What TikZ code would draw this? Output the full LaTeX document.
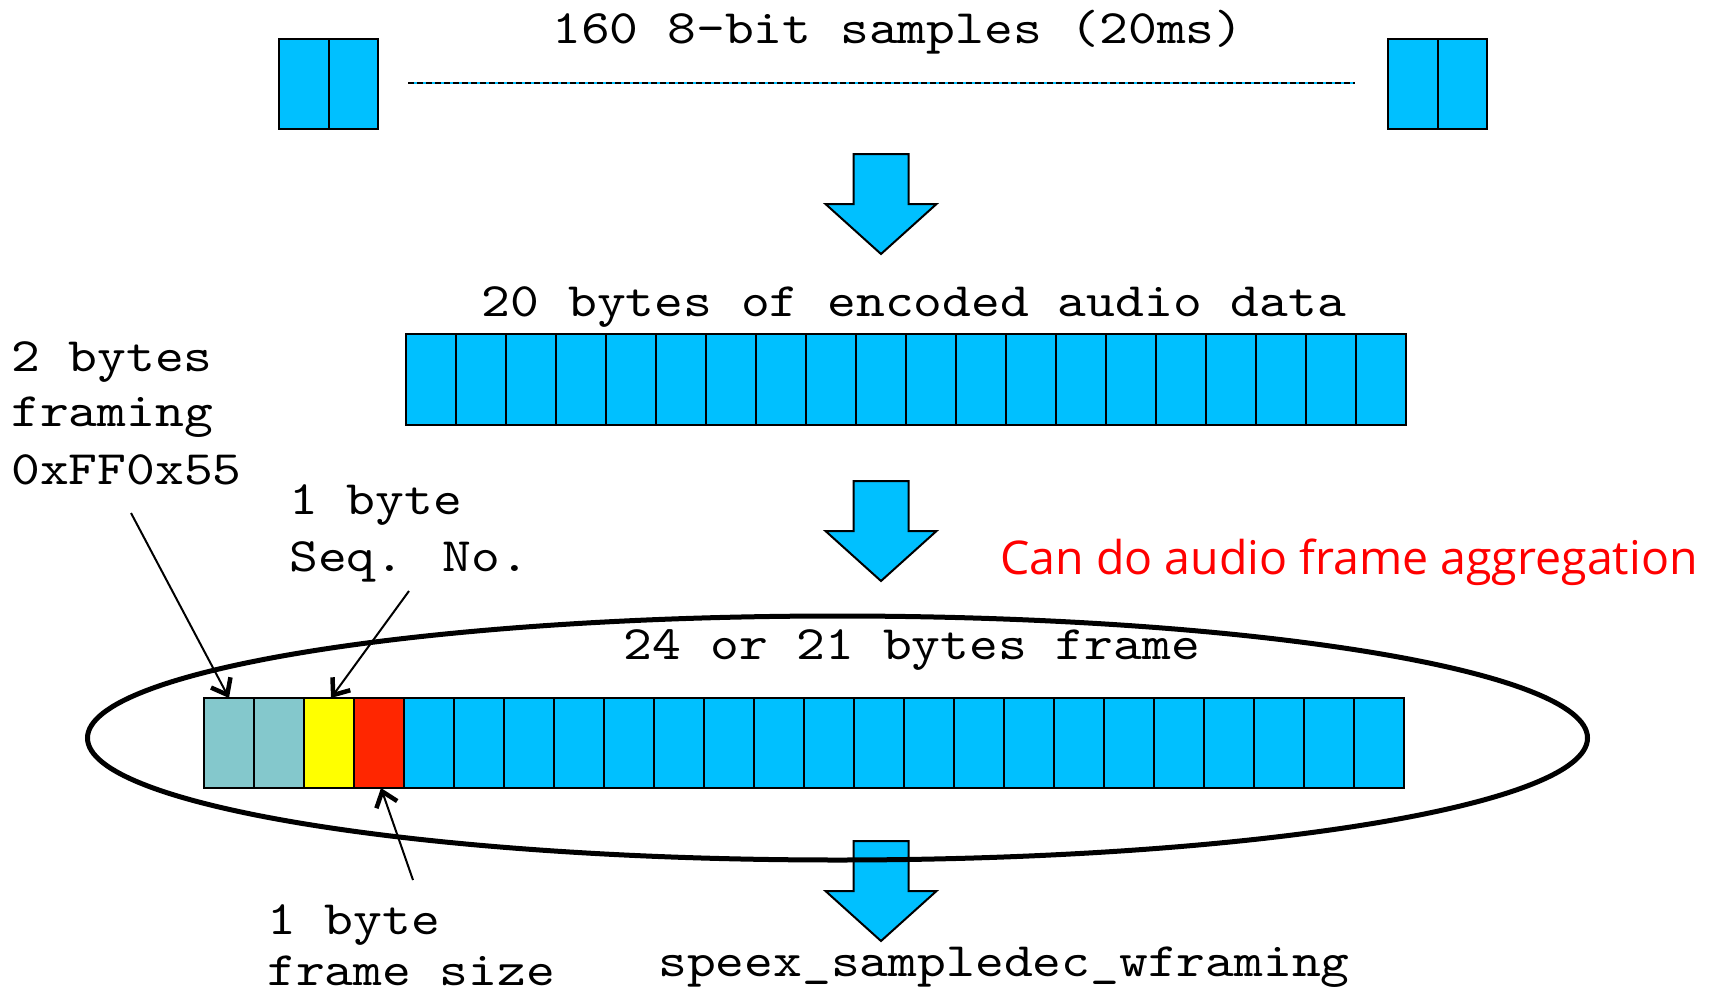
\documentclass[tikz,border=0pt]{standalone}
\usepackage{fontspec}
\newfontfamily\typefont{lmmono10-regular.otf}[FakeStretch=1.143]
\newfontfamily\casualfont{Open Sans}
\usetikzlibrary{arrows.meta,shapes.geometric}
\definecolor{byteblue}{RGB}{0,192,255}
\definecolor{frameteal}{RGB}{132,200,204}
\definecolor{seqyellow}{RGB}{255,255,0}
\definecolor{sizered}{RGB}{255,38,0}
\definecolor{notered}{RGB}{255,0,0}
\tikzset{
  pics/downarrow/.style={code={
    \draw[fill=byteblue, line width=2pt, line join=miter]
      (-27.5,0) -- (27.5,0) -- (27.5,50) -- (55.5,50) -- (0,100)
      -- (-55.5,50) -- (-27.5,50) -- cycle;
  }}
}
\begin{document}
\begin{tikzpicture}[x=1pt,y=-1pt,
  cell/.style={draw=black, line width=2pt, minimum width=50pt, minimum height=90pt,
               inner sep=0pt, outer sep=0pt},
  mono/.style={font=\fontsize{48}{56}\selectfont\typefont, inner sep=0pt, text=black},
  lbl/.style={mono, anchor=base west},
  ctr/.style={mono, anchor=base},
  pointer/.style={line width=2pt, -{Straight Barb[length=14pt,width=22pt,line width=4.5pt]}},
]
\useasboundingbox (0,0) rectangle (1714,996);

% --- 160 PCM samples ---
\node[ctr] (title) at (898,43) {160 8-bit samples (20ms)};
\draw[byteblue, line width=1.5pt] (408,83) -- (1355,83);
\draw[black, line width=1.5pt, dash pattern=on 6pt off 3pt] (408,83) -- (1355,83);
\node[cell, fill=byteblue, minimum width=49.5pt] (s1) at (304,84) {};
\node[cell, fill=byteblue, minimum width=49.5pt] (s2) at (353.5,84) {};
\node[cell, fill=byteblue, minimum width=49.5pt] (s3) at (1413,84) {};
\node[cell, fill=byteblue, minimum width=49.5pt] (s4) at (1462.5,84) {};

\pic at (881,154) {downarrow};

% --- encoded payload ---
\node[ctr] (enc) at (914,316) {20 bytes of encoded audio data};
\foreach \i in {1,...,20}
  \node[cell, fill=byteblue, minimum height=91pt] (p\i) at ({406+25+50*(\i-1)},379.5) {};

\pic at (881,481) {downarrow};

\node[font=\fontsize{46.5}{56}\selectfont\casualfont, text=notered, inner sep=0pt,
      anchor=base west] (agg) at (1000,574) {Can do audio frame aggregation};

% --- framed packet ---
\pic at (881,841) {downarrow};
\node[draw=black, line width=5pt, ellipse, minimum width=1500pt, minimum height=244pt,
      inner sep=0pt] (frame) at (837.5,738) {};
\node[ctr] (flabel) at (912,659) {24 or 21 bytes frame};
\foreach \i in {1,2}
  \node[cell, fill=frameteal] (c\i) at ({229+50*(\i-1)},743) {};
\node[cell, fill=seqyellow] (c3) at (329,743) {};
\node[cell, fill=sizered] (c4) at (379,743) {};
\foreach \i in {5,...,24}
  \node[cell, fill=byteblue] (c\i) at ({229+50*(\i-1)},743) {};

\node[ctr] (dec) at (1004,976) {speex\_sampledec\_wframing};

% --- field annotations ---
\node[lbl] (fr1) at (11,371) {2 bytes};
\node[lbl] (fr2) at (11,426) {framing};
\node[lbl] (fr3) at (11,484) {0xFF0x55};
\node[lbl] (sq1) at (289,514) {1 byte};
\node[lbl] (sq2) at (289,571) {Seq. No.};
\node[lbl] (sz1) at (267,934) {1 byte};
\node[lbl] (sz2) at (267,985) {frame size};

\coordinate (frstart) at (131,513);
\coordinate (sqstart) at (409,591);
\coordinate (szstart) at (413,880);
\draw[pointer] (frstart) -- (c1.north);
\draw[pointer] (sqstart) -- ([xshift=2pt]c3.north);
\draw[pointer] (szstart) -- ([xshift=2pt]c4.south);
\end{tikzpicture}
\end{document}
